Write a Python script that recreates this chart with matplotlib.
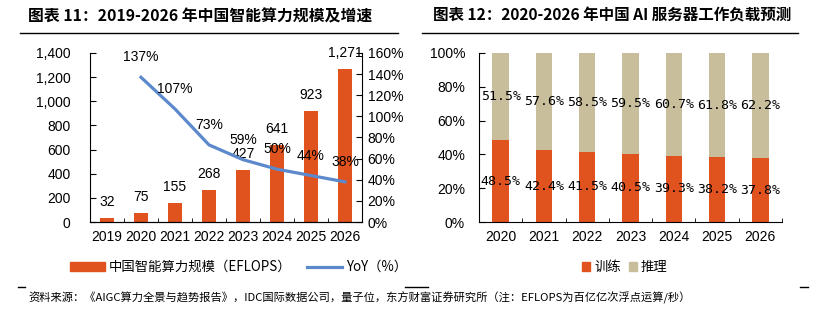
import matplotlib
matplotlib.use("Agg")
import matplotlib.pyplot as plt
import numpy as np
from matplotlib.lines import Line2D
from matplotlib.patches import Patch
from matplotlib.ticker import FuncFormatter, FixedLocator

plt.rcParams["font.family"] = ["Liberation Sans", "Noto Sans CJK SC", "DejaVu Sans"]
CJK = ["Noto Sans CJK SC", "DejaVu Sans"]

# chart 11: intelligent compute scale (EFLOPS) and YoY
years_l = ["2019", "2020", "2021", "2022", "2023", "2024", "2025", "2026"]
scale = [32, 75, 155, 268, 427, 641, 923, 1271]
yoy = [np.nan, 137, 107, 73, 59, 50, 44, 38]

# chart 12: AI server workload split (%)
years_r = ["2020", "2021", "2022", "2023", "2024", "2025", "2026"]
train = [48.5, 42.4, 41.5, 40.5, 39.3, 38.2, 37.8]
infer = [51.5, 57.6, 58.5, 59.5, 60.7, 61.8, 62.2]

ORANGE = "#E0521E"
BLUE = "#5B89CC"
BEIGE = "#C8BE9C"

W, H = 815, 323
fig = plt.figure(figsize=(W / 100, H / 100), dpi=100)


def box(x0, y0, x1, y1):
    return [x0 / W, 1 - y1 / H, (x1 - x0) / W, (y1 - y0) / H]


def comma(v, _):
    return f"{int(v):,}"


# ---- left chart
ax = fig.add_axes(box(90, 53, 362, 222))
x = np.arange(len(years_l))
ax.bar(x, scale, width=0.4, color=ORANGE, zorder=2)
ax.set_xlim(-0.5, len(years_l) - 0.5)
ax.set_ylim(0, 1400)
ax.set_yticks(range(0, 1401, 200))
ax.yaxis.set_major_formatter(FuncFormatter(comma))
ax.set_xticks(x)
ax.set_xticklabels(years_l)
ax.xaxis.set_minor_locator(FixedLocator(np.arange(-0.5, len(years_l), 1)))
ax.tick_params(axis="x", which="major", length=0, pad=6, labelsize=10)
ax.tick_params(axis="x", which="minor", direction="in", length=3)
ax.tick_params(axis="y", direction="in", length=4, labelsize=10, pad=14)
ax.spines["top"].set_visible(False)
ax.spines["right"].set_visible(False)
for xi, v in zip(x, scale):
    ax.annotate(f"{v:,}", (xi, v), xytext=(0, 11.5), textcoords="offset points",
                ha="center", va="center", fontsize=10, zorder=4)

ax2 = ax.twinx()
ax2.plot(x, yoy, color=BLUE, lw=2.3, zorder=3)
ax2.set_ylim(0, 160)
ax2.set_yticks(range(0, 161, 20))
ax2.yaxis.set_major_formatter(FuncFormatter(lambda v, _: f"{int(v)}%"))
ax2.tick_params(axis="y", direction="in", length=4, labelsize=10, pad=4)
ax2.spines["top"].set_visible(False)
ax2.spines["left"].set_visible(False)
for xi, v in zip(x, yoy):
    if not np.isnan(v):
        ax2.annotate(f"{v:.0f}%", (xi, v), xytext=(0, 14.4), textcoords="offset points",
                     ha="center", va="center", fontsize=10, zorder=4)

# ---- right chart
bx = fig.add_axes(box(479, 53, 782, 222))
xr = np.arange(len(years_r))
bx.bar(xr, train, width=0.38, color=ORANGE, zorder=2)
bx.bar(xr, infer, width=0.38, bottom=train, color=BEIGE, zorder=2)
bx.set_xlim(-0.5, len(years_r) - 0.5)
bx.set_ylim(0, 100)
bx.set_yticks(range(0, 101, 20))
bx.yaxis.set_major_formatter(FuncFormatter(lambda v, _: f"{int(v)}%"))
bx.set_xticks(xr)
bx.set_xticklabels(years_r)
bx.xaxis.set_minor_locator(FixedLocator(np.arange(-0.5, len(years_r), 1)))
bx.tick_params(axis="x", which="major", length=0, pad=6, labelsize=10)
bx.tick_params(axis="x", which="minor", direction="in", length=3)
bx.tick_params(axis="y", direction="in", length=4, labelsize=10, pad=10)
bx.spines["top"].set_visible(False)
bx.spines["right"].set_visible(False)
for xi, t, i in zip(xr, train, infer):
    bx.text(xi, t / 2, f"{t:.1f}%", ha="center", va="center", fontsize=9.5,
            family="DejaVu Sans Mono", zorder=4)
    bx.text(xi, t + i / 2, f"{i:.1f}%", ha="center", va="center", fontsize=9.5,
            family="DejaVu Sans Mono", zorder=4)

# ---- titles and rules
fig.text(28 / W, 1 - 16 / H, "图表 11：2019-2026 年中国智能算力规模及增速", family=CJK,
         fontsize=11.4, fontweight="bold", va="center", ha="left")
fig.text(433 / W, 1 - 16 / H, "图表 12：2020-2026 年中国 AI 服务器工作负载预测", family=CJK,
         fontsize=11.2, fontweight="bold", va="center", ha="left")
for x0, x1, y in [(20, 398, 33), (422, 798, 33), (18, 25, 287), (405, 428, 287), (800, 808, 287)]:
    fig.add_artist(Line2D([x0 / W, x1 / W], [1 - y / H, 1 - y / H], color="black", lw=1))

# ---- legends
fig.legend(handles=[Patch(color=ORANGE, label="中国智能算力规模（EFLOPS）"),
                    Line2D([], [], color=BLUE, lw=2.3, label="YoY（%）")],
           loc="center left", bbox_to_anchor=(58 / W, 1 - 267 / H), ncol=2,
           frameon=False, prop={"family": CJK, "size": 9.6},
           handlelength=2.6, handleheight=0.6, handletextpad=0.3, columnspacing=1.2)
fig.legend(handles=[Patch(color=ORANGE, label="训练"), Patch(color=BEIGE, label="推理")],
           loc="center left", bbox_to_anchor=(570 / W, 1 - 267 / H), ncol=2,
           frameon=False, prop={"family": CJK, "size": 9.6},
           handlelength=0.6, handleheight=0.6, handletextpad=0.3, columnspacing=0.6)

fig.text(28 / W, 1 - 298 / H,
         "资料来源：《AIGC算力全景与趋势报告》，IDC国际数据公司，量子位，东方财富证券研究所（注：EFLOPS为百亿亿次浮点运算/秒）",
         family=CJK, fontsize=8.1, va="center", ha="left")

fig.savefig("out.png", dpi=100)
